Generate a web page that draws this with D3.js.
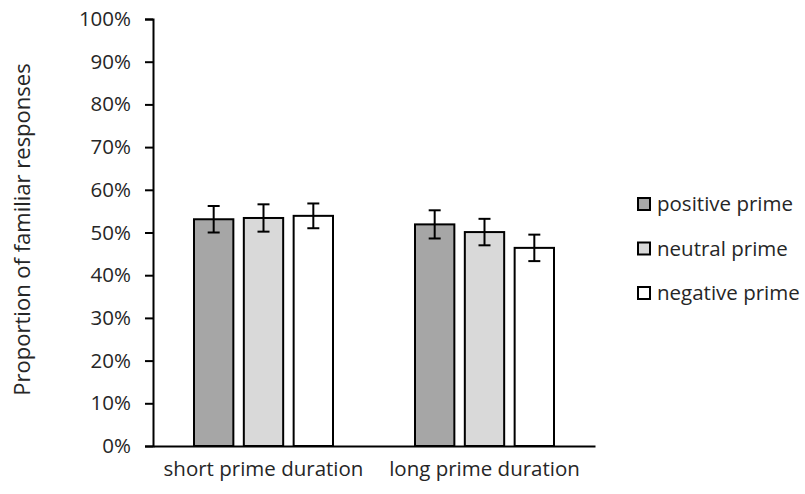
<!DOCTYPE html>
<html>
<head>
<meta charset="utf-8">
<script src="https://cdn.jsdelivr.net/npm/d3@7"></script>
<style>
  body { margin: 0; background: #fff; }
  svg text { font-family: "Open Sans", sans-serif; fill: #262626; }
</style>
</head>
<body>
<div id="chart"></div>
<script>
const durations = ['short prime duration', 'long prime duration']
const primes = ['positive prime', 'neutral prime', 'negative prime']
const primeColors = ['#a6a6a6', '#d9d9d9', '#ffffff']
const yTicks = [0, 0.1, 0.2, 0.3, 0.4, 0.5, 0.6, 0.7, 0.8, 0.9, 1]

// proportion of familiar responses, rows = duration, columns = prime
const means = [
	[0.531, 0.534, 0.539],
	[0.519, 0.501, 0.464]
]
const errors = [
	[0.031, 0.032, 0.029],
	[0.033, 0.031, 0.031]
]

const width = 805
const height = 494
const margin = {top: 19, left: 153, bottom: 48}
const plotRight = 595
const fontSize = 20.5

const svg = d3.select('#chart').append('svg')
	.attr('width', width)
	.attr('height', height)

const y = d3.scaleLinear()
	.domain([0, 1])
	.range([height - margin.bottom, margin.top])

const x = d3.scaleBand()
	.domain(durations)
	.range([margin.left, plotRight])

const inner = d3.scaleBand()
	.domain(primes)
	.range([41, x.bandwidth() - 41])
	.paddingInner(0.21)

const yAxis = d3.axisLeft(y)
	.tickValues(yTicks)
	.tickFormat(d3.format('.0%'))
	.tickSize(8)
	.tickPadding(14)

const yg = svg.append('g')
	.attr('transform', `translate(${margin.left},0)`)
	.call(yAxis)
yg.select('.domain').attr('stroke', '#000').attr('stroke-width', 2)
yg.selectAll('.tick line').attr('stroke', '#000').attr('stroke-width', 2)
yg.selectAll('.tick text').attr('font-size', fontSize).attr('font-family', '"Open Sans", sans-serif').attr('fill', '#262626')

const groups = svg.append('g').selectAll('g')
	.data(durations)
	.enter()
	.append('g')
	.attr('transform', d => `translate(${x(d)},0)`)

groups.selectAll('rect')
	.data((d, i) => primes.map((p, j) => ({prime: p, value: means[i][j], err: errors[i][j], color: primeColors[j]})))
	.enter()
	.append('rect')
	.attr('x', d => inner(d.prime))
	.attr('y', d => y(d.value))
	.attr('width', inner.bandwidth())
	.attr('height', d => y(0) - y(d.value))
	.attr('fill', d => d.color)
	.attr('stroke', '#000')
	.attr('stroke-width', 2)

const bars = groups.selectAll('g.err')
	.data((d, i) => primes.map((p, j) => ({prime: p, value: means[i][j], err: errors[i][j]})))
	.enter()
	.append('g')
	.attr('class', 'err')
	.attr('transform', d => `translate(${inner(d.prime) + inner.bandwidth() / 2},0)`)
	.attr('stroke', '#000')
	.attr('stroke-width', 2)

bars.append('line')
	.attr('y1', d => y(d.value + d.err))
	.attr('y2', d => y(d.value - d.err))
bars.append('line')
	.attr('x1', -6).attr('x2', 6)
	.attr('y1', d => y(d.value + d.err))
	.attr('y2', d => y(d.value + d.err))
bars.append('line')
	.attr('x1', -6).attr('x2', 6)
	.attr('y1', d => y(d.value - d.err))
	.attr('y2', d => y(d.value - d.err))

// x axis
const xAxis = d3.axisBottom(x).tickSize(0).tickPadding(15)
const xg = svg.append('g')
	.attr('transform', `translate(0,${y(0)})`)
	.call(xAxis)
xg.select('.domain').attr('stroke', '#000').attr('stroke-width', 2)
xg.selectAll('.tick text').attr('font-size', fontSize).attr('font-family', '"Open Sans", sans-serif').attr('fill', '#262626')

svg.append('text')
	.attr('transform', `translate(30,229.5) rotate(-90)`)
	.attr('text-anchor', 'middle')
	.attr('font-size', 22)
	.text('Proportion of familiar responses')

const legend = svg.append('g').selectAll('g')
	.data(primes)
	.enter()
	.append('g')
	.attr('transform', (d, i) => `translate(638,${204 + i * 44.5})`)

legend.append('rect')
	.attr('x', 0).attr('y', -6)
	.attr('width', 12).attr('height', 12)
	.attr('fill', (d, i) => primeColors[i])
	.attr('stroke', '#000')
	.attr('stroke-width', 2)

legend.append('text')
	.attr('x', 19)
	.attr('dy', '0.35em')
	.attr('font-size', fontSize)
	.text(d => d)
</script>
</body>
</html>
